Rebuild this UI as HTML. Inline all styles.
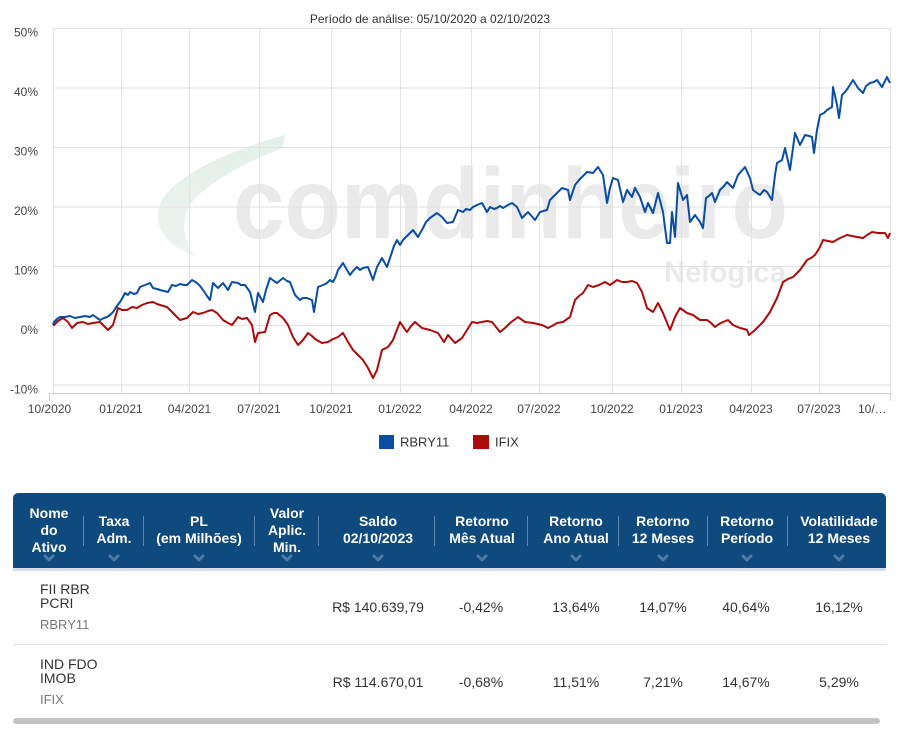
<!DOCTYPE html>
<html><head><meta charset="utf-8">
<style>
html,body{margin:0;padding:0;background:#fff;}
body{width:903px;height:730px;position:relative;overflow:hidden;font-family:"Liberation Sans",Arial,sans-serif;}
.h{position:absolute;color:#fff;font-weight:bold;font-size:14px;line-height:17px;text-align:center;width:130px;}
.v{position:absolute;color:#333;font-size:14px;line-height:16px;text-align:center;width:130px;}
.n{position:absolute;color:#333;font-size:14px;line-height:14px;left:40px;}
.s{position:absolute;color:#777;font-size:13px;line-height:14px;left:40px;}
.sep{position:absolute;top:516px;height:30px;width:1px;background:#5f86ad;}
</style></head><body>
<svg width="903" height="470" style="position:absolute;left:0;top:0" xmlns="http://www.w3.org/2000/svg">
<defs>
<linearGradient id="sw" x1="0" y1="0" x2="0" y2="1">
<stop offset="0" stop-color="#e3efe9"/>
<stop offset="1" stop-color="#edf4f0"/>
</linearGradient>
</defs>
<!-- watermark -->
<path d="M285,135 C230,150 172,176 160,204 C152,226 166,246 195,256 C182,240 180,216 193,201 C212,180 250,160 283,148 Z" fill="url(#sw)"/>
<text x="233" y="238" font-family="Liberation Sans, Arial, sans-serif" font-weight="bold" font-size="100" fill="#eaeaeb" textLength="555" lengthAdjust="spacingAndGlyphs">comdinheiro</text>
<text x="664" y="282" font-family="Liberation Sans, Arial, sans-serif" font-weight="bold" font-size="30" fill="#eaeaeb" textLength="122" lengthAdjust="spacingAndGlyphs">Nelogica</text>
<!-- grid -->
<g stroke="#e2e2e2" stroke-width="1">
<line x1="53" y1="28.5" x2="890" y2="28.5"/>
<line x1="53" y1="88" x2="890" y2="88"/>
<line x1="53" y1="147.5" x2="890" y2="147.5"/>
<line x1="53" y1="207" x2="890" y2="207"/>
<line x1="53" y1="266.5" x2="890" y2="266.5"/>
<line x1="53" y1="325.5" x2="890" y2="325.5"/>
<line x1="53" y1="385" x2="890" y2="385"/>
<line x1="53.5" y1="28" x2="53.5" y2="393"/>
<line x1="121.5" y1="28" x2="121.5" y2="393"/>
<line x1="189.5" y1="28" x2="189.5" y2="393"/>
<line x1="259.5" y1="28" x2="259.5" y2="393"/>
<line x1="331.5" y1="28" x2="331.5" y2="393"/>
<line x1="400.5" y1="28" x2="400.5" y2="393"/>
<line x1="471.5" y1="28" x2="471.5" y2="393"/>
<line x1="539.5" y1="28" x2="539.5" y2="393"/>
<line x1="612.5" y1="28" x2="612.5" y2="393"/>
<line x1="681.5" y1="28" x2="681.5" y2="393"/>
<line x1="751.5" y1="28" x2="751.5" y2="393"/>
<line x1="819.5" y1="28" x2="819.5" y2="393"/>
<line x1="890.5" y1="28" x2="890.5" y2="393"/>
</g>
<g stroke="#cfcfcf" stroke-width="1">
<line x1="49" y1="393.5" x2="891" y2="393.5"/>
<line x1="49.5" y1="393" x2="49.5" y2="401"/>
<line x1="890.5" y1="393" x2="890.5" y2="401"/>
</g>
<text x="430" y="23" text-anchor="middle" font-size="12" fill="#333" font-family="Liberation Sans, Arial, sans-serif">Período de análise: 05/10/2020 a 02/10/2023</text>
<g font-family="Liberation Sans, Arial, sans-serif" font-size="12" fill="#444" text-anchor="end">
<text x="38" y="36.5">50%</text>
<text x="38" y="96">40%</text>
<text x="38" y="155.5">30%</text>
<text x="38" y="215">20%</text>
<text x="38" y="274.5">10%</text>
<text x="38" y="334">0%</text>
<text x="38" y="393.5">-10%</text>
</g>
<g font-family="Liberation Sans, Arial, sans-serif" font-size="12" fill="#444" text-anchor="middle">
<text x="49.5" y="413">10/2020</text>
<text x="121" y="413">01/2021</text>
<text x="189.5" y="413">04/2021</text>
<text x="259" y="413">07/2021</text>
<text x="331" y="413">10/2021</text>
<text x="400" y="413">01/2022</text>
<text x="471" y="413">04/2022</text>
<text x="539" y="413">07/2022</text>
<text x="612" y="413">10/2022</text>
<text x="681" y="413">01/2023</text>
<text x="751" y="413">04/2023</text>
<text x="819" y="413">07/2023</text>
<text x="858" y="413" text-anchor="start">10/…</text>
</g>
<!-- red series -->
<polyline fill="none" stroke="#ad0b0b" stroke-width="2" stroke-linejoin="round" points="53,325 54,325 58,321 63,318 68,322 72,328 77,323 83,322 88,324 93,323 100,322 104,326 108,330 113,325 118,308 122,310 127,310 132,307 137,308 142,305 147,303 153,302 157,304 160,305 167,307 170,310 173,313 177,317 180,320 187,318 193,312 198,314 203,313 208,311 212,310 217,313 223,320 228,323 232,325 238,317 242,319 247,318 252,325 255,342 258,333 265,332 270,315 274,313 277,313 283,318 288,325 293,337 298,345 303,340 308,333 312,336 315,339 322,343 328,342 333,339 338,337 343,333 348,342 353,350 358,355 363,360 368,368 373,378 377,370 382,350 388,347 393,340 400,322 404,328 407,332 411,326 415,322 422,328 430,330 438,333 444,342 448,335 455,343 462,338 467,330 472,322 477,323 482,322 487,321 492,322 496,327 500,332 505,328 510,323 518,317 525,322 533,323 542,325 548,328 552,326 557,323 563,322 570,317 575,300 579,296 583,293 588,285 593,287 599,285 605,282 610,285 617,280 622,282 627,282 632,281 637,283 642,292 647,308 653,312 658,303 663,313 670,330 675,317 680,308 687,313 693,315 700,320 707,320 711,323 715,327 719,324 723,322 728,320 733,325 740,328 744,329 747,330 749,335 755,330 763,322 770,312 777,298 783,282 788,279 793,277 800,270 807,260 811,258 815,255 820,247 823,240 828,241 833,242 840,238 847,235 852,236 857,237 863,238 867,235 872,232 878,233 885,233 888,238 890,233"/>
<!-- blue series -->
<polyline fill="none" stroke="#0a4ea3" stroke-width="2" stroke-linejoin="round" points="53,325 54,322 57,319 60,317 65,317 70,316 75,318 80,317 85,316 90,317 93,315 97,318 100,320 104,318 107,317 110,315 113,312 117,306 120,302 123,297 125,293 128,295 130,292 134,294 137,293 140,287 145,285 150,283 153,288 157,289 160,290 164,291 168,292 172,285 176,286 180,284 184,285 187,285 192,280 197,283 200,286 203,290 207,296 210,300 213,283 218,288 223,283 228,290 232,282 238,283 241,285 245,285 250,292 253,304 255,312 258,293 263,302 266,290 270,278 274,281 277,283 283,278 287,281 290,282 295,295 300,300 303,298 307,298 312,300 314,312 318,287 323,285 327,283 330,280 333,282 336,276 338,270 343,263 347,270 350,275 353,271 357,267 360,270 363,268 368,267 373,280 377,267 382,258 387,267 390,258 394,246 397,240 400,245 403,240 408,235 413,230 418,237 423,228 426,222 430,218 437,213 442,217 447,223 453,222 458,210 463,212 466,209 470,210 473,207 477,205 482,203 487,212 490,207 494,209 497,208 500,206 503,208 508,205 512,203 517,207 522,218 528,212 535,220 540,212 547,210 550,200 553,197 557,193 562,188 568,190 570,200 575,185 579,180 582,177 587,172 593,173 598,167 603,175 607,203 610,188 613,178 618,180 623,202 627,190 632,197 635,188 640,197 645,212 648,203 653,213 658,193 663,212 667,243 670,243 672,212 675,237 678,183 683,200 687,195 690,222 695,215 700,222 703,228 706,198 709,196 712,193 715,202 720,190 724,186 727,182 733,188 738,175 745,167 750,178 753,190 757,193 760,195 764,190 767,192 772,200 775,175 777,163 782,160 785,148 790,170 795,133 800,145 805,135 809,136 812,137 814,153 817,130 820,115 824,113 827,110 832,107 833,87 837,105 839,118 842,95 845,92 848,88 853,80 858,88 863,93 866,86 870,83 874,82 877,80 882,87 887,77 890,83"/>
<!-- legend -->
<rect x="379" y="435" width="15" height="14" fill="#0a4ea3"/>
<text x="400" y="446.5" font-family="Liberation Sans, Arial, sans-serif" font-size="13" fill="#333">RBRY11</text>
<rect x="473" y="435" width="16" height="14" fill="#ae0a0a"/>
<text x="495" y="446.5" font-family="Liberation Sans, Arial, sans-serif" font-size="13" fill="#333">IFIX</text>
</svg>

<!-- table header -->
<div style="position:absolute;left:13px;top:493px;width:873px;height:75px;background:#0e4a7d;border-radius:5px 5px 0 0;"></div>
<div style="position:absolute;left:13px;top:568px;width:873px;height:3px;background:#d6dfe8;"></div>
<div class="sep" style="left:83px"></div>
<div class="sep" style="left:143px"></div>
<div class="sep" style="left:254px"></div>
<div class="sep" style="left:318px"></div>
<div class="sep" style="left:434px"></div>
<div class="sep" style="left:527px"></div>
<div class="sep" style="left:618px"></div>
<div class="sep" style="left:707px"></div>
<div class="sep" style="left:787px"></div>

<div class="h" style="left:-16px;top:505px;">Nome<br>do<br>Ativo</div>
<div class="h" style="left:49px;top:513px;">Taxa<br>Adm.</div>
<div class="h" style="left:134px;top:513px;">PL<br>(em Milhões)</div>
<div class="h" style="left:222px;top:505px;">Valor<br>Aplic.<br>Min.</div>
<div class="h" style="left:313px;top:513px;">Saldo<br>02/10/2023</div>
<div class="h" style="left:417px;top:513px;">Retorno<br>Mês Atual</div>
<div class="h" style="left:511px;top:513px;">Retorno<br>Ano Atual</div>
<div class="h" style="left:598px;top:513px;">Retorno<br>12 Meses</div>
<div class="h" style="left:682px;top:513px;">Retorno<br>Período</div>
<div class="h" style="left:774px;top:513px;">Volatilidade<br>12 Meses</div>

<svg width="903" height="20" style="position:absolute;left:0;top:550px" xmlns="http://www.w3.org/2000/svg">
<g fill="none" stroke="#4f7ba8" stroke-width="3" stroke-linecap="round" stroke-linejoin="round">
<polyline points="45,6 49,10 53,6"/>
<polyline points="110,6 114,10 118,6"/>
<polyline points="195,6 199,10 203,6"/>
<polyline points="283,6 287,10 291,6"/>
<polyline points="374,6 378,10 382,6"/>
<polyline points="478,6 482,10 486,6"/>
<polyline points="572,6 576,10 580,6"/>
<polyline points="659,6 663,10 667,6"/>
<polyline points="743,6 747,10 751,6"/>
<polyline points="835,6 839,10 843,6"/>
</g>
</svg>

<!-- row 1 -->
<div class="n" style="top:582px;">FII RBR</div>
<div class="n" style="top:596px;">PCRI</div>
<div class="s" style="top:618px;">RBRY11</div>
<div class="v" style="left:313px;top:599px;">R$ 140.639,79</div>
<div class="v" style="left:416px;top:599px;">-0,42%</div>
<div class="v" style="left:511px;top:599px;">13,64%</div>
<div class="v" style="left:598px;top:599px;">14,07%</div>
<div class="v" style="left:681px;top:599px;">40,64%</div>
<div class="v" style="left:774px;top:599px;">16,12%</div>
<div style="position:absolute;left:13px;top:644px;width:873px;height:1px;background:#e3e3e3;"></div>

<!-- row 2 -->
<div class="n" style="top:657px;">IND FDO</div>
<div class="n" style="top:671px;">IMOB</div>
<div class="s" style="top:693px;">IFIX</div>
<div class="v" style="left:313px;top:674px;">R$ 114.670,01</div>
<div class="v" style="left:416px;top:674px;">-0,68%</div>
<div class="v" style="left:511px;top:674px;">11,51%</div>
<div class="v" style="left:598px;top:674px;">7,21%</div>
<div class="v" style="left:681px;top:674px;">14,67%</div>
<div class="v" style="left:774px;top:674px;">5,29%</div>

<!-- scrollbar -->
<div style="position:absolute;left:13px;top:718px;width:867px;height:6px;background:#c3c3c3;border-radius:3px;"></div>
</body></html>
